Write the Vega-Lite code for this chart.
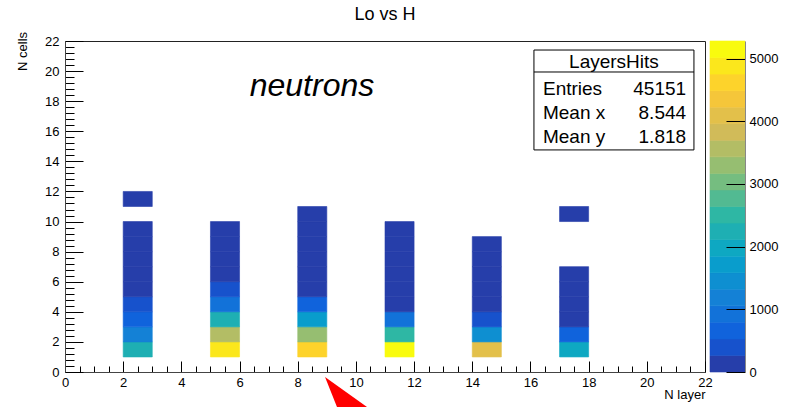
{
  "$schema": "https://vega.github.io/schema/vega-lite/v6.json",
  "background": "white",
  "padding": {"left": 16, "top": 5, "right": 5, "bottom": 0},
  "config": {
    "font": "Liberation Sans",
    "axis": {"grid": false, "labelFont": "Liberation Sans", "labelFontSize": 13, "labelColor": "#000", "titleFont": "Liberation Sans", "titleFontSize": 13, "titleFontWeight": "normal", "titleColor": "#000", "tickColor": "#000", "domainColor": "#444"}
  },
  "datasets": {
    "cells": [
      {"layer": 2, "layerEnd": 3, "cells": 1, "cellsEnd": 2, "hits": 2130},
      {"layer": 2, "layerEnd": 3, "cells": 2, "cellsEnd": 3, "hits": 1070},
      {"layer": 2, "layerEnd": 3, "cells": 3, "cellsEnd": 4, "hits": 540},
      {"layer": 2, "layerEnd": 3, "cells": 4, "cellsEnd": 5, "hits": 280},
      {"layer": 2, "layerEnd": 3, "cells": 5, "cellsEnd": 6, "hits": 180},
      {"layer": 2, "layerEnd": 3, "cells": 6, "cellsEnd": 7, "hits": 140},
      {"layer": 2, "layerEnd": 3, "cells": 7, "cellsEnd": 8, "hits": 110},
      {"layer": 2, "layerEnd": 3, "cells": 8, "cellsEnd": 9, "hits": 80},
      {"layer": 2, "layerEnd": 3, "cells": 9, "cellsEnd": 10, "hits": 50},
      {"layer": 2, "layerEnd": 3, "cells": 11, "cellsEnd": 12, "hits": 20},
      {"layer": 5, "layerEnd": 6, "cells": 1, "cellsEnd": 2, "hits": 4800},
      {"layer": 5, "layerEnd": 6, "cells": 2, "cellsEnd": 3, "hits": 3450},
      {"layer": 5, "layerEnd": 6, "cells": 3, "cellsEnd": 4, "hits": 2130},
      {"layer": 5, "layerEnd": 6, "cells": 4, "cellsEnd": 5, "hits": 800},
      {"layer": 5, "layerEnd": 6, "cells": 5, "cellsEnd": 6, "hits": 280},
      {"layer": 5, "layerEnd": 6, "cells": 6, "cellsEnd": 7, "hits": 210},
      {"layer": 5, "layerEnd": 6, "cells": 7, "cellsEnd": 8, "hits": 150},
      {"layer": 5, "layerEnd": 6, "cells": 8, "cellsEnd": 9, "hits": 100},
      {"layer": 5, "layerEnd": 6, "cells": 9, "cellsEnd": 10, "hits": 60},
      {"layer": 8, "layerEnd": 9, "cells": 1, "cellsEnd": 2, "hits": 4500},
      {"layer": 8, "layerEnd": 9, "cells": 2, "cellsEnd": 3, "hits": 3200},
      {"layer": 8, "layerEnd": 9, "cells": 3, "cellsEnd": 4, "hits": 1600},
      {"layer": 8, "layerEnd": 9, "cells": 4, "cellsEnd": 5, "hits": 540},
      {"layer": 8, "layerEnd": 9, "cells": 5, "cellsEnd": 6, "hits": 230},
      {"layer": 8, "layerEnd": 9, "cells": 6, "cellsEnd": 7, "hits": 170},
      {"layer": 8, "layerEnd": 9, "cells": 7, "cellsEnd": 8, "hits": 130},
      {"layer": 8, "layerEnd": 9, "cells": 8, "cellsEnd": 9, "hits": 90},
      {"layer": 8, "layerEnd": 9, "cells": 9, "cellsEnd": 10, "hits": 60},
      {"layer": 8, "layerEnd": 9, "cells": 10, "cellsEnd": 11, "hits": 30},
      {"layer": 11, "layerEnd": 12, "cells": 1, "cellsEnd": 2, "hits": 5280},
      {"layer": 11, "layerEnd": 12, "cells": 2, "cellsEnd": 3, "hits": 2400},
      {"layer": 11, "layerEnd": 12, "cells": 3, "cellsEnd": 4, "hits": 800},
      {"layer": 11, "layerEnd": 12, "cells": 4, "cellsEnd": 5, "hits": 220},
      {"layer": 11, "layerEnd": 12, "cells": 5, "cellsEnd": 6, "hits": 160},
      {"layer": 11, "layerEnd": 12, "cells": 6, "cellsEnd": 7, "hits": 120},
      {"layer": 11, "layerEnd": 12, "cells": 7, "cellsEnd": 8, "hits": 90},
      {"layer": 11, "layerEnd": 12, "cells": 8, "cellsEnd": 9, "hits": 60},
      {"layer": 11, "layerEnd": 12, "cells": 9, "cellsEnd": 10, "hits": 30},
      {"layer": 14, "layerEnd": 15, "cells": 1, "cellsEnd": 2, "hits": 3980},
      {"layer": 14, "layerEnd": 15, "cells": 2, "cellsEnd": 3, "hits": 1330},
      {"layer": 14, "layerEnd": 15, "cells": 3, "cellsEnd": 4, "hits": 280},
      {"layer": 14, "layerEnd": 15, "cells": 4, "cellsEnd": 5, "hits": 200},
      {"layer": 14, "layerEnd": 15, "cells": 5, "cellsEnd": 6, "hits": 150},
      {"layer": 14, "layerEnd": 15, "cells": 6, "cellsEnd": 7, "hits": 100},
      {"layer": 14, "layerEnd": 15, "cells": 7, "cellsEnd": 8, "hits": 60},
      {"layer": 14, "layerEnd": 15, "cells": 8, "cellsEnd": 9, "hits": 30},
      {"layer": 17, "layerEnd": 18, "cells": 1, "cellsEnd": 2, "hits": 1860},
      {"layer": 17, "layerEnd": 18, "cells": 2, "cellsEnd": 3, "hits": 540},
      {"layer": 17, "layerEnd": 18, "cells": 3, "cellsEnd": 4, "hits": 200},
      {"layer": 17, "layerEnd": 18, "cells": 4, "cellsEnd": 5, "hits": 120},
      {"layer": 17, "layerEnd": 18, "cells": 5, "cellsEnd": 6, "hits": 80},
      {"layer": 17, "layerEnd": 18, "cells": 6, "cellsEnd": 7, "hits": 40},
      {"layer": 17, "layerEnd": 18, "cells": 10, "cellsEnd": 11, "hits": 20}
    ],
    "bands": [
      {"lo": 0, "hi": 264}, {"lo": 264, "hi": 528}, {"lo": 528, "hi": 792}, {"lo": 792, "hi": 1056},
      {"lo": 1056, "hi": 1320}, {"lo": 1320, "hi": 1584}, {"lo": 1584, "hi": 1848}, {"lo": 1848, "hi": 2112},
      {"lo": 2112, "hi": 2376}, {"lo": 2376, "hi": 2640}, {"lo": 2640, "hi": 2904}, {"lo": 2904, "hi": 3168},
      {"lo": 3168, "hi": 3432}, {"lo": 3432, "hi": 3696}, {"lo": 3696, "hi": 3960}, {"lo": 3960, "hi": 4224},
      {"lo": 4224, "hi": 4488}, {"lo": 4488, "hi": 4752}, {"lo": 4752, "hi": 5016}, {"lo": 5016, "hi": 5280}
    ],
    "stats": [
      {"title": "LayersHits", "names": ["Entries", "Mean x", "Mean y"], "vals": ["45151", "8.544", "1.818"]}
    ],
    "texts": [{"main": "Lo vs H", "ytitle": "N cells", "note": "neutrons"}],
    "arrow": [{"note": "arrow"}]
  },
  "spacing": 5,
  "bounds": "flush",
  "resolve": {"scale": {"color": "shared", "stroke": "shared"}},
  "hconcat": [
    {
      "width": 640,
      "height": 331,
      "view": {"stroke": "#222", "strokeWidth": 1},
      "layer": [
        {
          "data": {"name": "cells"},
          "mark": {"type": "rect", "strokeWidth": 0.6},
          "encoding": {
            "x": {
              "field": "layer", "type": "quantitative",
              "scale": {"domain": [0, 22], "nice": false, "zero": false},
              "axis": {
                "title": "N layer",
                "values": [0,0.5,1,1.5,2,2.5,3,3.5,4,4.5,5,5.5,6,6.5,7,7.5,8,8.5,9,9.5,10,10.5,11,11.5,12,12.5,13,13.5,14,14.5,15,15.5,16,16.5,17,17.5,18,18.5,19,19.5,20,20.5,21,21.5,22],
                "tickCount": 200,
                "format": ".0f",
                "tickSize": {"condition": {"test": "datum.value % 2 === 0", "value": -11}, "value": -6},
                "labelExpr": "datum.value % 2 === 0 ? datum.label : ''",
                "labelPadding": 15,
                "labelOverlap": false, "labelFlush": false, "labelBound": false,
                "titleX": 640, "titleY": 26, "titleAlign": "right", "titleBaseline": "alphabetic",
                "zindex": 1
              }
            },
            "x2": {"field": "layerEnd"},
            "y": {
              "field": "cells", "type": "quantitative",
              "scale": {"domain": [0, 22], "nice": false, "zero": false},
              "axis": {
                "title": null,
                "values": [0,0.4,0.8,1.2,1.6,2,2.4,2.8,3.2,3.6,4,4.4,4.8,5.2,5.6,6,6.4,6.8,7.2,7.6,8,8.4,8.8,9.2,9.6,10,10.4,10.8,11.2,11.6,12,12.4,12.8,13.2,13.6,14,14.4,14.8,15.2,15.6,16,16.4,16.8,17.2,17.6,18,18.4,18.8,19.2,19.6,20,20.4,20.8,21.2,21.6,22],
                "tickCount": 200,
                "format": ".0f",
                "tickSize": {"condition": {"test": "datum.value % 2 === 0", "value": -18}, "value": -9},
                "labelExpr": "datum.value % 2 === 0 ? datum.label : ''",
                "labelPadding": 24,
                "labelOverlap": false, "labelFlush": false, "labelBound": false,
                "zindex": 1
              }
            },
            "y2": {"field": "cellsEnd"},
            "color": {
              "field": "hits", "type": "quantitative",
              "scale": {"type": "quantize", "domain": [0, 5280], "nice": false, "zero": false,
                "range": ["#263eaa","#1752cc","#1063dc","#1272d9","#1481d6","#0e8fd1","#099dcc","#0ea8c2","#1eafb3","#2eb7a4","#52ba92","#75bd80","#96be71","#b3bd65","#d1bb59","#e3c04a","#f5c63a","#fdd32b","#fbe71c","#f9fb0e"]},
              "legend": null
            },
            "stroke": {
              "field": "hits", "type": "quantitative",
              "scale": {"type": "quantize", "domain": [0, 5280], "nice": false, "zero": false,
                "range": ["#263eaa","#1752cc","#1063dc","#1272d9","#1481d6","#0e8fd1","#099dcc","#0ea8c2","#1eafb3","#2eb7a4","#52ba92","#75bd80","#96be71","#b3bd65","#d1bb59","#e3c04a","#f5c63a","#fdd32b","#fbe71c","#f9fb0e"]},
              "legend": null
            }
          }
        },
        {
          "data": {"name": "texts"},
          "mark": {"type": "text", "font": "Liberation Sans", "fontSize": 18, "align": "center", "baseline": "alphabetic", "color": "#000"},
          "encoding": {
            "x": {"datum": 11, "type": "quantitative"},
            "y": {"datum": 23.4, "type": "quantitative"},
            "text": {"field": "main", "type": "nominal"}
          }
        },
        {
          "data": {"name": "texts"},
          "mark": {"type": "text", "font": "Liberation Sans", "fontSize": 13, "angle": 270, "align": "right", "baseline": "alphabetic", "color": "#000"},
          "encoding": {
            "x": {"datum": -1.306, "type": "quantitative"},
            "y": {"datum": 22.6, "type": "quantitative"},
            "text": {"field": "ytitle", "type": "nominal"}
          }
        },
        {
          "data": {"name": "texts"},
          "mark": {"type": "text", "font": "Liberation Sans", "fontSize": 32, "fontStyle": "italic", "align": "center", "baseline": "alphabetic", "color": "#000"},
          "encoding": {
            "x": {"datum": 8.49, "type": "quantitative"},
            "y": {"datum": 18.35, "type": "quantitative"},
            "text": {"field": "note", "type": "nominal"}
          }
        },
        {
          "data": {"name": "stats"},
          "mark": {"type": "rect", "fill": "white", "stroke": "#000", "strokeWidth": 1},
          "encoding": {
            "x": {"datum": 16.12, "type": "quantitative"},
            "x2": {"datum": 21.62},
            "y": {"datum": 21.4, "type": "quantitative"},
            "y2": {"datum": 14.76}
          }
        },
        {
          "data": {"name": "stats"},
          "mark": {"type": "rule", "stroke": "#000", "strokeWidth": 1},
          "encoding": {
            "x": {"datum": 16.12, "type": "quantitative"},
            "x2": {"datum": 21.62},
            "y": {"datum": 19.94, "type": "quantitative"}
          }
        },
        {
          "data": {"name": "stats"},
          "mark": {"type": "text", "font": "Liberation Sans", "fontSize": 19, "align": "center", "baseline": "alphabetic", "color": "#000"},
          "encoding": {
            "x": {"datum": 18.87, "type": "quantitative"},
            "y": {"datum": 20.19, "type": "quantitative"},
            "text": {"field": "title", "type": "nominal"}
          }
        },
        {
          "data": {"name": "stats"},
          "mark": {"type": "text", "font": "Liberation Sans", "fontSize": 19, "align": "left", "baseline": "alphabetic", "lineHeight": 24, "color": "#000"},
          "encoding": {
            "x": {"datum": 16.43, "type": "quantitative"},
            "y": {"datum": 18.41, "type": "quantitative"},
            "text": {"field": "names", "type": "nominal"}
          }
        },
        {
          "data": {"name": "stats"},
          "mark": {"type": "text", "font": "Liberation Sans", "fontSize": 19, "align": "right", "baseline": "alphabetic", "lineHeight": 24, "color": "#000"},
          "encoding": {
            "x": {"datum": 21.35, "type": "quantitative"},
            "y": {"datum": 18.41, "type": "quantitative"},
            "text": {"field": "vals", "type": "nominal"}
          }
        },
        {
          "data": {"name": "arrow"},
          "mark": {"type": "point", "shape": "M -1 -0.71 L -0.43 0.71 L 1 0.71 Z", "filled": true, "color": "#ff0000", "opacity": 1, "size": 1764, "strokeWidth": 0},
          "encoding": {
            "x": {"datum": 9.66, "type": "quantitative"},
            "y": {"datum": -1.33, "type": "quantitative"}
          }
        }
      ]
    },
    {
      "width": 35,
      "height": 331,
      "view": {"stroke": null},
      "data": {"name": "bands"},
      "mark": {"type": "rect", "strokeWidth": 0.6},
      "encoding": {
        "y": {
          "field": "lo", "type": "quantitative",
          "scale": {"domain": [0, 5280], "nice": false, "zero": false},
          "axis": {"orient": "right", "title": null, "values": [0,1000,2000,3000,4000,5000], "tickCount": 50, "format": "d", "tickSize": -19, "labelPadding": 23, "domainColor": "#888", "tickColor": "#000", "labelFlush": false, "labelOverlap": false, "zindex": 1}
        },
        "y2": {"field": "hi"},
        "color": {
          "field": "lo", "type": "quantitative",
          "scale": {"type": "quantize", "domain": [0, 5280], "nice": false, "zero": false,
            "range": ["#263eaa","#1752cc","#1063dc","#1272d9","#1481d6","#0e8fd1","#099dcc","#0ea8c2","#1eafb3","#2eb7a4","#52ba92","#75bd80","#96be71","#b3bd65","#d1bb59","#e3c04a","#f5c63a","#fdd32b","#fbe71c","#f9fb0e"]},
          "legend": null
        },
        "stroke": {
          "field": "lo", "type": "quantitative",
          "scale": {"type": "quantize", "domain": [0, 5280], "nice": false, "zero": false,
            "range": ["#263eaa","#1752cc","#1063dc","#1272d9","#1481d6","#0e8fd1","#099dcc","#0ea8c2","#1eafb3","#2eb7a4","#52ba92","#75bd80","#96be71","#b3bd65","#d1bb59","#e3c04a","#f5c63a","#fdd32b","#fbe71c","#f9fb0e"]},
          "legend": null
        }
      }
    }
  ]
}
